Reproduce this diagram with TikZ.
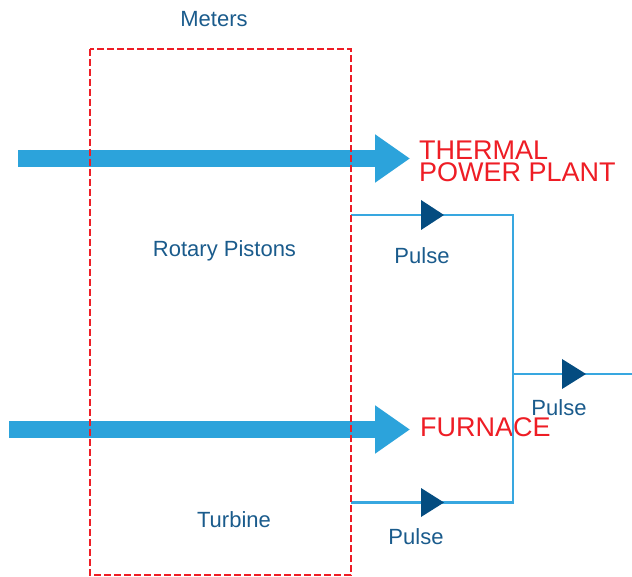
\documentclass[tikz,border=0pt]{standalone}
\usepackage{fontspec}
\setmainfont{Liberation Sans}
\usetikzlibrary{arrows.meta}
\definecolor{bigblue}{HTML}{2CA3DB}
\definecolor{lineblue}{HTML}{38A7E0}
\definecolor{tridark}{HTML}{044C80}
\definecolor{txtblue}{HTML}{1A5B8C}
\definecolor{txtred}{HTML}{EE1D25}
\tikzset{
  lbl/.style={text=txtblue, font=\fontsize{22}{24}\selectfont, inner sep=0pt},
  redlbl/.style={text=txtred, font=\fontsize{27}{22.5}\selectfont, inner sep=0pt, align=left},
  bigarrow/.style={draw=bigblue, line width=17pt, -{Triangle[length=35pt,width=46pt]}},
  thin/.style={draw=lineblue, line width=2.6pt},
  tri/.style={fill=tridark},
  meterbox/.style={draw=txtred, line width=1.8pt, dash pattern=on 7pt off 3pt}
}
\begin{document}
\begin{tikzpicture}[x=1pt,y=-1pt]
\useasboundingbox (0,0) rectangle (632,577);
% texts
\node[lbl, anchor=base] (meters) at (214,27) {Meters};
\node[lbl, anchor=base] (rotary) at (224.5,257) {Rotary Pistons};
\node[lbl, anchor=base] (turbine) at (234,527) {Turbine};
\node[lbl, anchor=base] (p1) at (422,264) {Pulse};
\node[lbl, anchor=base] (p2) at (416,544) {Pulse};
\node[lbl, anchor=base] (p3) at (559,415) {Pulse};
\node[redlbl, anchor=base west] (thermal) at (419,160) {THERMAL};
\node[redlbl, anchor=base west] (power) at (419,182) {POWER PLANT};
\node[redlbl, anchor=base west] (furnace) at (420,436) {FURNACE};
% thick arrows
\coordinate (a1s) at (18,158.5);
\coordinate (a1e) at (410,158.5);
\coordinate (a2s) at (9,429.5);
\coordinate (a2e) at (410,429.5);
\draw[bigarrow] (a1s) -- (a1e);
\draw[bigarrow] (a2s) -- (a2e);
% pulse lines
\coordinate (l1s) at (351,215);
\coordinate (j1) at (513,215);
\coordinate (j2) at (513,502.5);
\coordinate (l2s) at (351,502.5);
\coordinate (jm) at (513,374);
\coordinate (out) at (632,374);
\draw[thin] (l1s) -- (j1) -- (j2) -- (l2s);
\draw[thin] (jm) -- (out);
\fill[tri] (421,200) -- (444,215) -- (421,230) -- cycle;
\fill[tri] (421,488) -- (444,502.5) -- (421,517) -- cycle;
\fill[tri] (562,359) -- (586,374) -- (562,389) -- cycle;
% meters box
\draw[meterbox] (90,49) rectangle (351,575);
\end{tikzpicture}
\end{document}
